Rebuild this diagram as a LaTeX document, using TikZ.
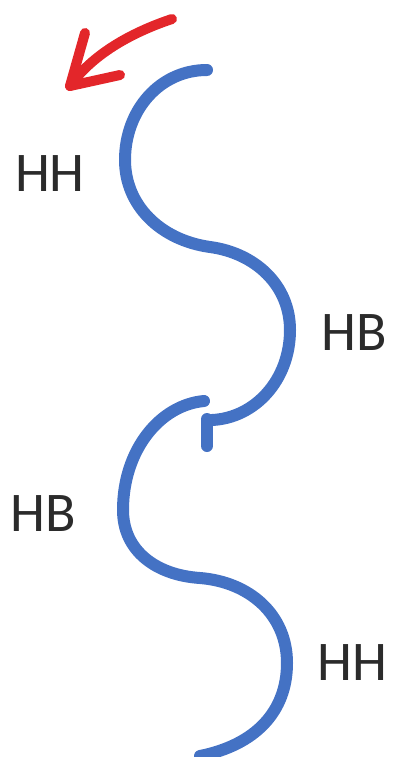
\documentclass[tikz,border=0pt]{standalone}
\usepackage{fontspec}
\setmainfont{Carlito}
\definecolor{strand}{HTML}{4472C4}
\definecolor{arrowred}{HTML}{E3262A}
\definecolor{txt}{HTML}{2B2B2B}
\begin{document}
\begin{tikzpicture}[x=1pt,y=-1pt,
  strandline/.style={draw=strand,line width=12pt,line cap=round,line join=round},
  redline/.style={draw=arrowred,line width=10pt,line cap=round,line join=round},
  lab/.style={text=txt,font=\fontsize{56}{60}\selectfont,inner sep=0pt}]
\useasboundingbox (0,0) rectangle (392,757);
\clip (0,0) rectangle (392,757);
% labels
\node[lab] (hh1) at (50,174) {HH};
\node[lab] (hb1) at (354,333) {HB};
\node[lab] (hb2) at (43,514) {HB};
\node[lab] (hh2) at (352,663) {HH};
% red arrow
\coordinate (r0) at (172,19);
\coordinate (rt) at (70,86);
\coordinate (rb1) at (85,33);
\coordinate (rb2) at (120,75);
\draw[redline] (r0) .. controls (130,33) and (92,55) .. (rt);
\draw[redline] (rb1) -- (rt) -- (rb2);
% upper strand
\coordinate (u0) at (207,70);
\coordinate (u1) at (125,160);
\coordinate (u2) at (210,247);
\coordinate (u3) at (290,330);
\coordinate (u4) at (212,420);
\coordinate (t0) at (207,419);
\coordinate (t1) at (207,446);
\draw[strandline] (u0) .. controls (160,70) and (125,110) .. (u1)
  .. controls (125,205) and (160,240) .. (u2)
  .. controls (255,253) and (290,285) .. (u3)
  .. controls (290,380) and (255,418) .. (u4);
\draw[strandline] (t0) -- (t1);
% lower strand
\coordinate (l0) at (204,401);
\coordinate (l1) at (123,510);
\coordinate (l2) at (200,578);
\coordinate (l3) at (287,663);
\coordinate (l4) at (200,756);
\draw[strandline] (l0) .. controls (160,405) and (123,450) .. (l1)
  .. controls (123,550) and (155,575) .. (l2)
  .. controls (250,582) and (287,615) .. (l3)
  .. controls (287,712) and (255,745) .. (l4);
\end{tikzpicture}
\end{document}
